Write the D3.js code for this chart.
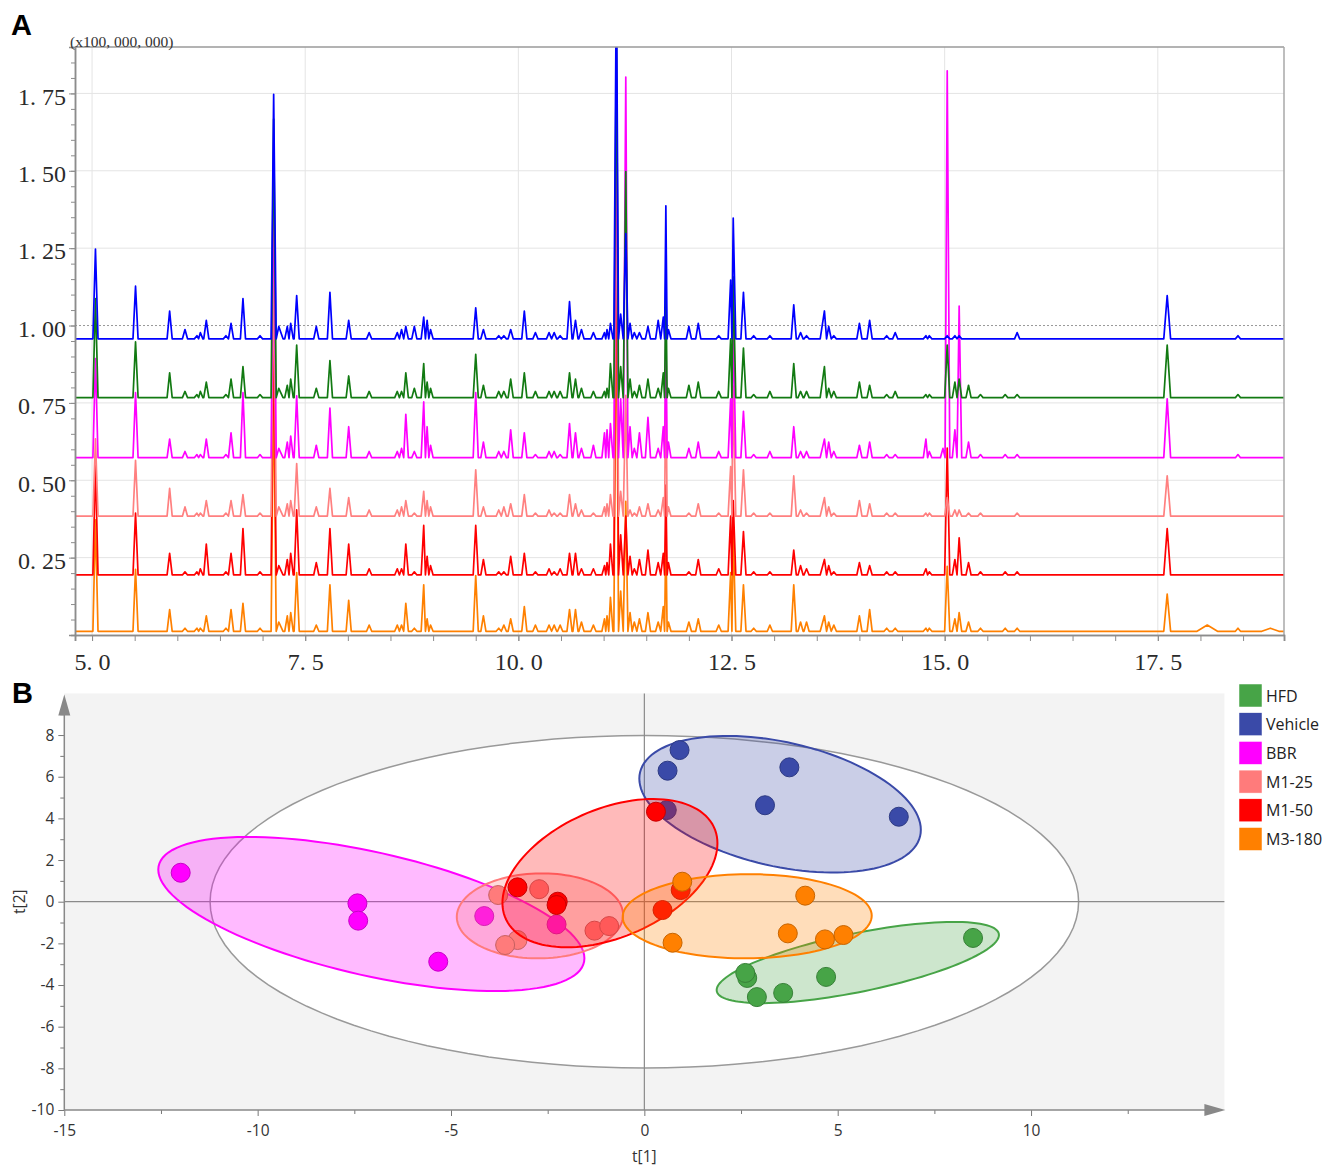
<!DOCTYPE html>
<html>
<head>
<meta charset="utf-8">
<script src="https://cdn.jsdelivr.net/npm/d3@7"></script>
<style>
  body { margin: 0; background: #fff; }
</style>
</head>
<body>
<svg id="chart" width="1327" height="1166"></svg>
<script>
'use strict';

// ---------- panel A : overlaid chromatograms (intensity x100,000,000) ----------
const retentionTimes = [
  5.04, 5.51, 5.91, 6.09, 6.23, 6.27, 6.34, 6.57, 6.63, 6.77,
  6.97, 7.13, 7.19, 7.29, 7.33, 7.40, 7.63, 7.79, 8.01, 8.25,
  8.58, 8.63, 8.68, 8.78, 8.89, 8.93, 8.97, 9.50, 9.59, 9.77,
  9.83, 9.91, 10.07, 10.20, 10.36, 10.42, 10.49, 10.60, 10.67, 10.74,
  10.88, 11.01, 11.04, 11.08, 11.15, 11.20, 11.26, 11.31, 11.36, 11.42,
  11.52, 11.64, 11.70, 11.73, 11.76, 12.00, 12.11, 12.35, 12.49, 12.52,
  12.64, 12.76, 12.95, 13.23, 13.31, 13.38, 13.59, 13.64, 13.70, 14.00,
  14.12, 14.32, 14.42, 14.78, 14.82, 14.98, 15.03, 15.12, 15.17, 15.28,
  15.42, 15.71, 15.85, 17.61, 18.08, 18.44, 18.82
];
// wider peaks (half width in min); the others are 0.03
const broadPeaks = { 7.19: 0.09, 13.59: 0.05, 17.61: 0.04, 18.08: 0.12, 18.82: 0.1 };

// peak heights above each trace's baseline, in units of 1,000,000
const vehicleHeights = [
  29, 17, 9, 3, 1, 2, 6, 1, 5, 13,
  1, 79, 4, 4, 5, 14, 4, 15, 6, 2,
  2, 3, 4, 4, 7, 6, 3, 10, 3, 1,
  1, 3, 9, 2, 2, 2, 1, 12, 6, 3,
  2, 2, 3, 5, 120, 8, 34, 5, 2, 2,
  4, 6, 7, 43, 3, 4, 5, 1, 19, 39,
  15, 1, 1, 11, 2, 1, 9, 4, 1, 5,
  6, 1, 2, 1, 1, 0, 1, 1, 1, 0,
  0, 0, 2, 14, 0, 1, 0
];
const hfdHeights = [
  32, 18, 8, 2, 1, 2, 5, 1, 6, 10,
  1, 90, 3, 4, 6, 17, 3, 12, 7, 2,
  2, 2, 8, 3, 11, 5, 3, 14, 4, 2,
  2, 6, 8, 2, 2, 2, 2, 8, 6, 3,
  2, 2, 3, 11, 120, 10, 73, 6, 2, 4,
  6, 3, 8, 39, 3, 4, 5, 2, 19, 39,
  16, 1, 2, 11, 2, 2, 10, 3, 2, 5,
  4, 1, 2, 1, 1, 0, 17, 5, 6, 4,
  1, 1, 1, 17, 0, 1, 0
];
const bbrHeights = [
  32, 21, 6, 2, 1, 1, 6, 1, 8, 21,
  1, 94, 3, 5, 7, 20, 4, 16, 10, 2,
  2, 3, 14, 2, 18, 10, 4, 21, 5, 2,
  2, 9, 8, 1, 2, 2, 1, 11, 8, 3,
  4, 8, 9, 11, 120, 19, 123, 10, 3, 8,
  13, 3, 10, 45, 5, 3, 5, 2, 19, 45,
  15, 1, 2, 10, 2, 2, 6, 5, 2, 4,
  5, 1, 1, 6, 2, 3, 125, 9, 49, 5,
  1, 1, 1, 19, 0, 1, 0
];
const m125Heights = [
  25, 18, 9, 3, 1, 1, 5, 1, 5, 7,
  1, 81, 3, 4, 5, 17, 3, 9, 6, 2,
  2, 3, 5, 1, 8, 5, 3, 15, 3, 2,
  3, 4, 7, 1, 2, 1, 1, 7, 4, 2,
  1, 3, 4, 7, 120, 8, 39, 2, 1, 3,
  4, 2, 6, 48, 3, 1, 4, 1, 16, 42,
  15, 1, 1, 13, 2, 1, 6, 3, 1, 5,
  4, 1, 1, 1, 1, 0, 6, 2, 2, 1,
  1, 0, 1, 13, 0, 0, 0
];
const m150Heights = [
  36, 20, 7, 1, 1, 2, 10, 1, 7, 15,
  1, 81, 3, 5, 7, 21, 4, 15, 10, 2,
  2, 2, 10, 1, 16, 6, 3, 16, 5, 1,
  1, 6, 7, 1, 2, 1, 2, 7, 7, 2,
  2, 3, 4, 10, 120, 13, 19, 6, 2, 5,
  8, 4, 7, 29, 4, 1, 5, 2, 19, 24,
  14, 1, 1, 8, 3, 2, 5, 3, 1, 4,
  3, 1, 1, 2, 1, 0, 41, 5, 12, 4,
  1, 1, 1, 15, 0, 0, 0
];
const m3180Heights = [
  36, 20, 7, 1, 1, 1, 5, 1, 7, 9,
  1, 81, 3, 5, 6, 19, 2, 15, 10, 2,
  2, 2, 9, 1, 15, 4, 2, 18, 5, 1,
  2, 4, 8, 2, 2, 2, 2, 7, 7, 3,
  2, 4, 5, 11, 120, 13, 42, 6, 3, 4,
  6, 3, 8, 32, 3, 3, 4, 2, 19, 32,
  15, 1, 2, 15, 3, 3, 5, 3, 2, 5,
  7, 1, 1, 1, 1, 0, 21, 4, 6, 3,
  1, 1, 1, 12, 2, 1, 1
];
// vertical offset of each trace (x100,000,000)
const traceBaselines = { 'M3-180': 0.012, 'M1-50': 0.194, 'M1-25': 0.384, 'BBR': 0.573, 'HFD': 0.767, 'Vehicle': 0.957 };
const yTicksA = [0.25, 0.5, 0.75, 1.0, 1.25, 1.5, 1.75];
const xTicksA = [5, 7.5, 10, 12.5, 15, 17.5];

// ---------- panel B : PCA scores ----------
const groups = ['HFD', 'Vehicle', 'BBR', 'M1-25', 'M1-50', 'M3-180'];
const hfdScores = [[8.50, -1.74], [4.70, -3.61], [3.59, -4.38], [2.91, -4.58], [2.66, -3.66], [2.61, -3.42]];
const vehicleScores = [[0.91, 7.28], [0.60, 6.29], [3.75, 6.45], [3.12, 4.63], [6.58, 4.08], [0.58, 4.40]];
const bbrScores = [[-11.99, 1.39], [-7.42, -0.08], [-7.40, -0.91], [-5.33, -2.88], [-4.14, -0.69], [-2.27, -1.09]];
const m125Scores = [[-3.78, 0.32], [-2.72, 0.60], [-1.29, -1.39], [-0.91, -1.17], [-3.28, -1.84], [-3.60, -2.08]];
const m150Scores = [[0.30, 4.32], [-3.28, 0.69], [-2.24, 0.00], [-2.27, -0.16], [0.94, 0.56], [0.47, -0.40]];
const m3180Scores = [[0.98, 0.96], [4.16, 0.29], [3.71, -1.52], [4.67, -1.81], [5.15, -1.60], [0.73, -1.97]];
// group confidence ellipses: centre, and [half width in t1, half height in t2, t2 offset of the rightmost point]
const ellipseCenters = [[5.52, -2.92], [3.51, 4.68], [-7.06, -0.59], [-2.70, -0.68], [-0.89, 1.37], [2.66, -0.70]];
const ellipseSpreads = [[3.65, 1.95, 1.32], [3.64, 3.28, -1.23], [5.51, 3.70, -2.13], [2.15, 2.04, 0.05], [2.78, 3.56, 1.43], [3.22, 2.02, 0.03]];
const hotellingT2 = [11.23, 7.98];

const groupColors = { 'HFD': '#47a447', 'Vehicle': '#3a4aa8', 'BBR': '#ff00ff', 'M1-25': '#ff7b7b', 'M1-50': '#ff0000', 'M3-180': '#ff8000' };
const traceColors = { 'HFD': '#127a12', 'Vehicle': '#0000ff', 'BBR': '#ff00ff', 'M1-25': '#ff8080', 'M1-50': '#ff0000', 'M3-180': '#ff8000' };

const svg = d3.select('#chart');
svg.append('rect').attr('width', 1327).attr('height', 1166).attr('fill', '#fff');

// ======================= panel A =======================
const xA = d3.scaleLinear().domain([4.8, 18.98]).range([75, 1284]);
const yA = d3.scaleLinear().domain([0, 1.9]).range([635, 47]);
const serif = '"Liberation Serif", "DejaVu Serif", serif';

const gridA = svg.append('g');
gridA.selectAll('line.v').data(xTicksA).join('line')
  .attr('x1', d => xA(d)).attr('x2', d => xA(d))
  .attr('y1', yA(1.9)).attr('y2', yA(0))
  .attr('stroke', '#e4e4e4').attr('stroke-width', 1);
gridA.selectAll('line.h').data(yTicksA).join('line')
  .attr('x1', xA(4.8)).attr('x2', xA(18.98))
  .attr('y1', d => yA(d)).attr('y2', d => yA(d))
  .attr('stroke', d => d === 1 ? '#999' : '#e4e4e4')
  .attr('stroke-dasharray', d => d === 1 ? '2,2' : null)
  .attr('stroke-width', 1);

svg.append('clipPath').attr('id', 'clipA')
  .append('rect').attr('x', 75).attr('y', 47).attr('width', 1209).attr('height', 588);

function tracePoints(heights, base) {
  const peaks = retentionTimes.map((t, i) => ({ t: t, h: heights[i] })).filter(p => p.h > 0);
  const pts = [[xA.domain()[0], base]];
  peaks.forEach((p, k) => {
    const w = broadPeaks[p.t] || 0.03;
    const prev = peaks[k - 1], next = peaks[k + 1];
    const left = prev ? Math.max(p.t - w, (prev.t + p.t) / 2) : p.t - w;
    const right = next ? Math.min(p.t + w, (p.t + next.t) / 2) : p.t + w;
    pts.push([left, base], [p.t, base + p.h / 100], [right, base]);
  });
  pts.push([xA.domain()[1], base]);
  return pts;
}

const traces = [
  ['M3-180', m3180Heights], ['M1-50', m150Heights], ['M1-25', m125Heights],
  ['BBR', bbrHeights], ['HFD', hfdHeights], ['Vehicle', vehicleHeights]
];
const lineA = d3.line().x(d => xA(d[0])).y(d => yA(d[1]));
svg.append('g').attr('clip-path', 'url(#clipA)')
  .selectAll('path').data(traces).join('path')
  .attr('d', d => lineA(tracePoints(d[1], traceBaselines[d[0]])))
  .attr('fill', 'none')
  .attr('stroke', d => traceColors[d[0]])
  .attr('stroke-width', 1.7)
  .attr('stroke-linejoin', 'round');

// frame
svg.append('line').attr('x1', 75).attr('x2', 1284).attr('y1', 47).attr('y2', 47).attr('stroke', '#9a9a9a').attr('stroke-width', 1.5);
svg.append('line').attr('x1', 1284).attr('x2', 1284).attr('y1', 47).attr('y2', 635).attr('stroke', '#a8a8a8').attr('stroke-width', 1.5);

const yAxisA = svg.append('g').attr('transform', 'translate(75,0)')
  .call(d3.axisLeft(yA).tickValues(d3.range(1, 38).map(i => i * 0.05)).tickSize(4).tickFormat(''));
const yAxisA2 = svg.append('g').attr('transform', 'translate(75,0)')
  .call(d3.axisLeft(yA).tickValues(yTicksA).tickSize(6).tickPadding(3)
    .tickFormat(d => d3.format('.2f')(d).replace('.', '. ')));
const xAxisA = svg.append('g').attr('transform', 'translate(0,635)')
  .call(d3.axisBottom(xA).tickValues(d3.range(10, 38).map(i => i * 0.5)).tickSize(6).tickFormat(''));
const xAxisA2 = svg.append('g').attr('transform', 'translate(0,635)')
  .call(d3.axisBottom(xA).tickValues(xTicksA).tickSize(6).tickPadding(12)
    .tickFormat(d => d3.format('.1f')(d).replace('.', '. ')));
[yAxisA, yAxisA2, xAxisA, xAxisA2].forEach(g => {
  g.select('.domain').attr('stroke', '#8c8c8c').attr('stroke-width', 1.5);
  g.selectAll('.tick line').attr('stroke', '#8c8c8c');
  g.selectAll('text').attr('font-family', serif).attr('font-size', 24).attr('fill', '#2a2a2a');
});
yAxisA2.selectAll('text').attr('dy', '0.45em');

svg.append('text').attr('x', 70).attr('y', 47).text('(x100, 000, 000)')
  .attr('font-family', serif).attr('font-size', 15.5).attr('fill', '#333');
svg.append('text').attr('x', 11).attr('y', 35).text('A')
  .attr('font-family', '"Liberation Sans", Arial, sans-serif').attr('font-weight', 'bold').attr('font-size', 29);

// ======================= panel B =======================
const xB = d3.scaleLinear().domain([-15, 15]).range([64.3, 1224.4]);
const yB = d3.scaleLinear().domain([-10, 10]).range([1110, 693.4]);
const sans = '"Open Sans", "Noto Sans", sans-serif';

svg.append('rect')
  .attr('x', xB(-15)).attr('y', yB(10))
  .attr('width', xB(15) - xB(-15)).attr('height', yB(-10) - yB(10))
  .attr('fill', '#f3f3f3');

function ellipsePath(c, s) {
  const l22 = Math.sqrt(s[1] * s[1] - s[2] * s[2]);
  const pts = d3.range(0, 360, 3).map(a => {
    const r = a * Math.PI / 180;
    return [c[0] + s[0] * Math.cos(r), c[1] + s[2] * Math.cos(r) + l22 * Math.sin(r)];
  });
  return d3.line().x(d => xB(d[0])).y(d => yB(d[1])).curve(d3.curveLinearClosed)(pts);
}

svg.append('path')
  .attr('d', ellipsePath([0, 0], [hotellingT2[0], hotellingT2[1], 0]))
  .attr('fill', '#fff').attr('stroke', '#999').attr('stroke-width', 1.5);

// zero lines
svg.append('line').attr('x1', xB(-15)).attr('x2', xB(15)).attr('y1', yB(0)).attr('y2', yB(0))
  .attr('stroke', '#8a8a8a').attr('stroke-width', 1.2);
svg.append('line').attr('x1', xB(0)).attr('x2', xB(0)).attr('y1', yB(-10)).attr('y2', yB(10))
  .attr('stroke', '#8a8a8a').attr('stroke-width', 1.2);

const scoreSets = [hfdScores, vehicleScores, bbrScores, m125Scores, m150Scores, m3180Scores];
groups.forEach((grp, i) => {
  const col = groupColors[grp];
  const g = svg.append('g');
  g.append('path')
    .attr('d', ellipsePath(ellipseCenters[i], ellipseSpreads[i]))
    .attr('fill', col).attr('fill-opacity', 0.27)
    .attr('stroke', col).attr('stroke-width', 2);
  g.selectAll('circle').data(scoreSets[i]).join('circle')
    .attr('cx', d => xB(d[0])).attr('cy', d => yB(d[1]))
    .attr('r', 9.5)
    .attr('fill', col)
    .attr('stroke', d3.color(col).darker(0.7))
    .attr('stroke-width', 1);
});

// axes
const plainNum = d => String(d);
const yAxisB = svg.append('g').attr('transform', `translate(${xB(-15)},0)`)
  .call(d3.axisLeft(yB).tickValues(d3.range(-9, 10, 2)).tickSize(4).tickFormat(''));
const yAxisB2 = svg.append('g').attr('transform', `translate(${xB(-15)},0)`)
  .call(d3.axisLeft(yB).tickValues(d3.range(-10, 9, 2)).tickSize(6).tickPadding(4).tickFormat(plainNum));
const xAxisB = svg.append('g').attr('transform', `translate(0,${yB(-10)})`)
  .call(d3.axisBottom(xB).tickValues([-12.5, -7.5, -2.5, 2.5, 7.5, 12.5]).tickSize(4).tickFormat(''));
const xAxisB2 = svg.append('g').attr('transform', `translate(0,${yB(-10)})`)
  .call(d3.axisBottom(xB).tickValues([-15, -10, -5, 0, 5, 10]).tickSize(6).tickPadding(9).tickFormat(plainNum));
[yAxisB, yAxisB2, xAxisB, xAxisB2].forEach(g => {
  g.select('.domain').remove();
  g.selectAll('.tick line').attr('stroke', '#777');
  g.selectAll('text').attr('font-family', sans).attr('font-size', 15.5).attr('fill', '#333');
});
// axis lines with arrow heads
svg.append('line').attr('x1', xB(-15)).attr('x2', xB(-15)).attr('y1', yB(-10)).attr('y2', yB(10) + 18)
  .attr('stroke', '#888').attr('stroke-width', 1.5);
svg.append('line').attr('x1', xB(-15)).attr('x2', xB(15) - 18).attr('y1', yB(-10)).attr('y2', yB(-10))
  .attr('stroke', '#888').attr('stroke-width', 1.5);
svg.append('path')
  .attr('d', `M${xB(-15)},${yB(10) + 1} l-6,21 l12,0 Z`).attr('fill', '#888');
svg.append('path')
  .attr('d', `M${xB(15) + 1},${yB(-10)} l-21,-6 l0,12 Z`).attr('fill', '#888');

svg.append('text').attr('x', xB(0)).attr('y', 1162).attr('text-anchor', 'middle').text('t[1]')
  .attr('font-family', sans).attr('font-size', 15.5).attr('fill', '#333');
svg.append('text').attr('transform', `translate(25,${yB(0)}) rotate(-90)`).attr('text-anchor', 'middle').text('t[2]')
  .attr('font-family', sans).attr('font-size', 15.5).attr('fill', '#333');
svg.append('text').attr('x', 12).attr('y', 703).text('B')
  .attr('font-family', '"Liberation Sans", Arial, sans-serif').attr('font-weight', 'bold').attr('font-size', 29);

// legend
const legend = svg.append('g').attr('transform', 'translate(1239,684)');
const item = legend.selectAll('g').data(groups).join('g')
  .attr('transform', (d, i) => `translate(0,${i * 28.7})`);
item.append('rect').attr('width', 23).attr('height', 23)
  .attr('fill', d => groupColors[d]).attr('stroke', '#fff').attr('stroke-width', 0.5);
item.append('text').attr('x', 27).attr('y', 17.5).text(d => d)
  .attr('font-family', sans).attr('font-size', 16).attr('fill', '#222');
</script>
</body>
</html>
